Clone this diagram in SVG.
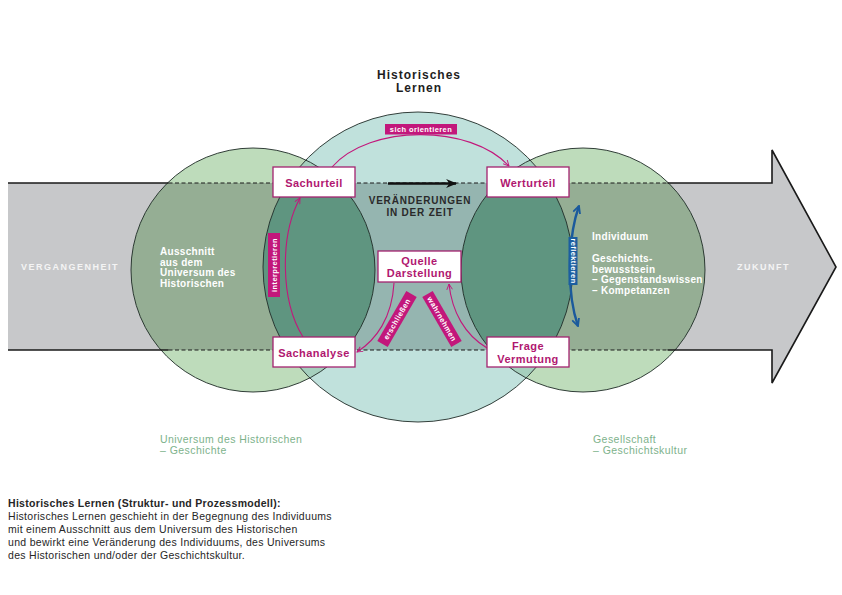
<svg xmlns="http://www.w3.org/2000/svg" width="842" height="595" viewBox="0 0 842 595">
<style>
.t{font-family:"Liberation Sans",Arial,sans-serif}
.box{fill:#ffffff;stroke:#a3236f;stroke-width:1.3}
.bt{font-family:"Liberation Sans",Arial,sans-serif;font-weight:bold;font-size:11px;fill:#b0176f;letter-spacing:0.45px;text-anchor:middle}
.lab{fill:#c2177b}
.lt{font-family:"Liberation Sans",Arial,sans-serif;font-weight:bold;font-size:7.5px;fill:#ffffff;letter-spacing:0.4px;text-anchor:middle}
.conn{fill:none;stroke:#c2177b;stroke-width:1.1}
.wt{font-family:"Liberation Sans",Arial,sans-serif;font-weight:bold;font-size:10px;fill:#ffffff;letter-spacing:0.3px}
.gt{font-family:"Liberation Sans",Arial,sans-serif;font-size:10.5px;fill:#7db28b;letter-spacing:0.45px}
.ct{font-family:"Liberation Sans",Arial,sans-serif;font-size:10.5px;fill:#262626;letter-spacing:0.3px}
.edge{fill:none;stroke:#1a1a1a;stroke-width:1.6}
.dash{fill:none;stroke:#1a1a1a;stroke-width:1.2;stroke-dasharray:4 2.5}
.co{fill:none;stroke:#1e2a26;stroke-width:0.9}
</style>
<defs>
<clipPath id="cBand"><path d="M8,183 H772 V150 L836,267 L772,383 V350 H8 Z"/></clipPath>
<clipPath id="cL"><circle cx="253" cy="270" r="122"/></clipPath>
<clipPath id="cR"><circle cx="583" cy="270" r="122"/></clipPath>
<marker id="mg" viewBox="0 0 10 10" refX="9" refY="5" markerWidth="7" markerHeight="7" orient="auto" markerUnits="userSpaceOnUse"><path d="M1,1 L9,5 L1,9" fill="none" stroke="#c2177b" stroke-width="1.3"/></marker>
<marker id="mk" viewBox="0 0 10 10" refX="9" refY="5" markerWidth="11" markerHeight="11" orient="auto" markerUnits="userSpaceOnUse"><path d="M0,1 L10,5 L0,9 L3,5 Z" fill="#111"/></marker>
<marker id="mb" viewBox="0 0 10 10" refX="9" refY="5" markerWidth="9" markerHeight="9" orient="auto-start-reverse" markerUnits="userSpaceOnUse"><path d="M1,1 L9,5 L1,9" fill="none" stroke="#1b5a9c" stroke-width="2"/></marker>
</defs>
<rect width="842" height="595" fill="#ffffff"/>

<g id="background">
<path d="M8,183 H772 V150 L836,267 L772,383 V350 H8 Z" fill="#c7c8ca"/>
<circle cx="253" cy="270" r="122" fill="#bedcbb"/>
<circle cx="583" cy="270" r="122" fill="#bedcbb"/>
<circle cx="418" cy="267" r="155" fill="#c0e1dc"/>
<g clip-path="url(#cBand)">
<circle cx="253" cy="270" r="122" fill="#95ae94"/>
<circle cx="583" cy="270" r="122" fill="#95ae94"/>
<circle cx="418" cy="267" r="155" fill="#95b5b0"/>
</g>
<g clip-path="url(#cL)">
<circle cx="418" cy="267" r="155" fill="#a5cfbd"/>
<g clip-path="url(#cBand)"><circle cx="418" cy="267" r="155" fill="#5f9580"/></g>
</g>
<g clip-path="url(#cR)">
<circle cx="418" cy="267" r="155" fill="#a5cfbd"/>
<g clip-path="url(#cBand)"><circle cx="418" cy="267" r="155" fill="#5f9580"/></g>
</g>
<circle class="co" cx="253" cy="270" r="122"/>
<circle class="co" cx="583" cy="270" r="122"/>
<circle class="co" cx="418" cy="267" r="155"/>
<path class="edge" d="M8,183 H168.5 M667.5,183 H772 V150 L836,267 L772,383 V350 H667.5 M168.5,350 H8"/>
<path class="dash" d="M168.5,183 H667.5 M168.5,350 H667.5"/>
</g>

<g id="texts">
<text class="t" x="419" y="79" font-size="12" font-weight="bold" fill="#1e1e1e" text-anchor="middle" letter-spacing="1">Historisches</text>
<text class="t" x="419" y="92" font-size="12" font-weight="bold" fill="#1e1e1e" text-anchor="middle" letter-spacing="1">Lernen</text>
<text class="t" x="21" y="270" font-size="9" font-weight="bold" fill="#f4f4f4" letter-spacing="1.5">VERGANGENHEIT</text>
<text class="t" x="737" y="270" font-size="9" font-weight="bold" fill="#f4f4f4" letter-spacing="1.5">ZUKUNFT</text>
<text class="t" x="420" y="204" font-size="10" font-weight="bold" fill="#2a2a2a" text-anchor="middle" letter-spacing="0.8">VERÄNDERUNGEN</text>
<text class="t" x="420" y="215.5" font-size="10" font-weight="bold" fill="#2a2a2a" text-anchor="middle" letter-spacing="0.8">IN DER ZEIT</text>
<text class="wt" x="160" y="255">Ausschnitt</text>
<text class="wt" x="160" y="265.5">aus dem</text>
<text class="wt" x="160" y="276">Universum des</text>
<text class="wt" x="160" y="286.5">Historischen</text>
<text class="wt" x="592" y="240">Individuum</text>
<text class="wt" x="592" y="262">Geschichts-</text>
<text class="wt" x="592" y="272.5">bewusstsein</text>
<text class="wt" x="592" y="283">– Gegenstandswissen</text>
<text class="wt" x="592" y="293.5">– Kompetanzen</text>
<text class="gt" x="160" y="443">Universum des Historischen</text>
<text class="gt" x="160" y="454">– Geschichte</text>
<text class="gt" x="593" y="443">Gesellschaft</text>
<text class="gt" x="593" y="454">– Geschichtskultur</text>
<text class="ct" x="8" y="507" font-weight="bold">Historisches Lernen (Struktur- und Prozessmodell):</text>
<text class="ct" x="8" y="520">Historisches Lernen geschieht in der Begegnung des Individuums</text>
<text class="ct" x="8" y="533">mit einem Ausschnitt aus dem Universum des Historischen</text>
<text class="ct" x="8" y="546">und bewirkt eine Veränderung des Individuums, des Universums</text>
<text class="ct" x="8" y="559">des Historischen und/oder der Geschichtskultur.</text>
</g>

<g id="connectors">
<path class="conn" d="M332,167 C370,124 470,124 509,166" marker-end="url(#mg)"/>
<path class="conn" d="M303,337 C280,300 280,235 300,198" marker-end="url(#mg)"/>
<path class="conn" d="M394,283 C392,318 376,340 357,352" marker-end="url(#mg)"/>
<path class="conn" d="M487,348 C465,335 452,312 449,284" marker-end="url(#mg)"/>
<path d="M579,206 C567,240 567,295 578,326" fill="none" stroke="#1b5a9c" stroke-width="2.4" marker-start="url(#mb)" marker-end="url(#mb)"/>
<path d="M388,183.5 H456" fill="none" stroke="#111" stroke-width="2.6" marker-end="url(#mk)"/>
</g>

<g id="lab-orientieren">
<rect class="lab" x="385" y="124" width="72" height="10.5"/>
<text class="lt" x="421" y="132">sich orientieren</text>
</g>
<g id="lab-interpretieren" transform="translate(274,265) rotate(-90)">
<rect class="lab" x="-32" y="-6" width="64" height="12"/>
<text class="lt" x="0" y="2.7">interpretieren</text>
</g>
<g id="lab-erschliessen" transform="translate(397,319) rotate(-60)">
<rect class="lab" x="-29" y="-6" width="58" height="12"/>
<text class="lt" x="0" y="2.7">erschließen</text>
</g>
<g id="lab-wahrnehmen" transform="translate(442,319) rotate(60)">
<rect class="lab" x="-29" y="-6" width="58" height="12"/>
<text class="lt" x="0" y="2.7">wahrnehmen</text>
</g>
<g id="lab-reflektieren" transform="translate(573,261) rotate(90)">
<rect x="-24" y="-4.5" width="48" height="9" fill="#1b5ea0"/>
<text class="lt" x="0" y="2.4" font-size="6.5">reflektieren</text>
</g>

<g id="node-sachurteil">
<rect class="box" x="273" y="167" width="82" height="30"/>
<text class="bt" x="314" y="187">Sachurteil</text>
</g>
<g id="node-werturteil">
<rect class="box" x="487" y="167" width="82" height="30"/>
<text class="bt" x="528" y="187">Werturteil</text>
</g>
<g id="node-quelle">
<rect class="box" x="378" y="251" width="83" height="31"/>
<text class="bt" x="419.5" y="265">Quelle</text>
<text class="bt" x="419.5" y="277">Darstellung</text>
</g>
<g id="node-sachanalyse">
<rect class="box" x="273" y="337" width="82" height="30"/>
<text class="bt" x="314" y="357">Sachanalyse</text>
</g>
<g id="node-frage">
<rect class="box" x="487" y="337" width="82" height="30"/>
<text class="bt" x="528" y="350">Frage</text>
<text class="bt" x="528" y="363">Vermutung</text>
</g>
</svg>
